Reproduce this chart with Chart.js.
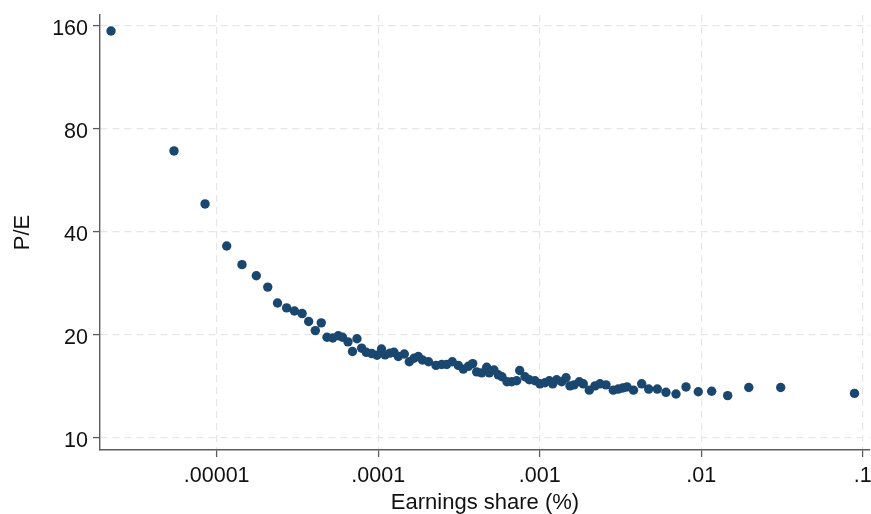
<!DOCTYPE html>
<html>
<head>
<meta charset="utf-8">
<script src="https://cdn.jsdelivr.net/npm/chart.js@4/dist/chart.umd.min.js"></script>
<style>
  html, body { margin: 0; padding: 0; background: #ffffff; }
  #wrap { width: 871px; height: 514px; }
</style>
</head>
<body>
<div id="wrap"><canvas id="c" width="871" height="514"></canvas></div>
<script>
// Earnings share (%) — x values
const earningsShare = [
  2.216e-6, 5.44e-6, 8.47e-6, 1.153e-5, 1.434e-5, 1.759e-5, 2.07e-5, 2.38e-5, 2.71e-5, 3.03e-5,
  3.38e-5, 3.71e-5, 4.08e-5, 4.44e-5, 4.82e-5, 5.23e-5, 5.66e-5, 6.01e-5, 6.50e-5, 6.93e-5,
  7.39e-5, 7.90e-5, 8.44e-5, 9.12e-5, 9.83e-5, 1.048e-4, 1.102e-4, 1.183e-4, 1.252e-4, 1.332e-4,
  1.451e-4, 1.558e-4, 1.666e-4, 1.771e-4, 1.881e-4, 2.049e-4, 2.280e-4, 2.474e-4, 2.656e-4, 2.876e-4,
  3.133e-4, 3.365e-4, 3.614e-4, 3.847e-4, 4.073e-4, 4.375e-4, 4.697e-4, 4.874e-4, 5.212e-4, 5.541e-4,
  5.841e-4, 6.272e-4, 6.708e-4, 7.204e-4, 7.519e-4, 8.110e-4, 8.622e-4, 9.352e-4, 1.004e-3, 1.079e-3,
  1.147e-3, 1.204e-3, 1.274e-3, 1.368e-3, 1.455e-3, 1.540e-3, 1.631e-3, 1.759e-3, 1.862e-3, 2.028e-3,
  2.200e-3, 2.363e-3, 2.574e-3, 2.856e-3, 3.066e-3, 3.265e-3, 3.472e-3, 3.809e-3, 4.281e-3, 4.731e-3,
  5.349e-3, 6.053e-3, 6.982e-3, 8.053e-3, 9.594e-3, 1.161e-2, 1.459e-2, 1.971e-2, 3.107e-2, 8.897e-2
];
// P/E — y values
const peRatio = [
  154.6, 69.0, 48.3, 36.4, 32.1, 29.8, 27.6, 24.8, 24.0, 23.5,
  23.1, 21.9, 20.6, 21.7, 19.7, 19.6, 19.9, 19.7, 19.1, 17.9,
  19.5, 18.3, 17.8, 17.65, 17.45, 18.2, 17.5, 17.7, 17.8, 17.3,
  17.6, 16.7, 17.1, 17.3, 16.9, 16.7, 16.3, 16.4, 16.4, 16.7,
  16.3, 15.9, 16.2, 16.5, 15.6, 15.5, 16.1, 15.5, 15.8, 15.3,
  15.1, 14.6, 14.6, 14.7, 15.75, 15.1, 14.8, 14.7, 14.4, 14.5,
  14.7, 14.4, 14.8, 14.6, 15.0, 14.2, 14.3, 14.6, 14.4, 13.8,
  14.2, 14.4, 14.3, 13.8, 13.9, 14.0, 14.1, 13.8, 14.4, 13.9,
  13.9, 13.6, 13.45, 14.1, 13.65, 13.7, 13.3, 14.05, 14.05, 13.5
];

const xTicks = [0.00001, 0.0001, 0.001, 0.01, 0.1];
const xTickLabels = ['.00001', '.0001', '.001', '.01', '.1'];
const yTicks = [10, 20, 40, 80, 160];
const yTickLabels = ['10', '20', '40', '80', '160'];

const points = earningsShare.map((x, i) => ({ x: x, y: peRatio[i] }));

const FONT = "'Liberation Sans', Arial, Helvetica, sans-serif";
const axisColor = '#5c5c5c';
const gridColor = '#e6e6e6';
const noPad = () => ({ left: 0, top: 0, right: 0, bottom: 0 });

new Chart(document.getElementById('c'), {
  type: 'scatter',
  data: {
    datasets: [{
      data: points,
      backgroundColor: '#1a476f',
      borderWidth: 0,
      pointRadius: 4.7,
      pointHoverRadius: 4.7,
      clip: false
    }]
  },
  options: {
    responsive: false,
    animation: false,
    events: [],
    layout: { autoPadding: false, padding: { top: 15, right: 1, left: 0, bottom: 0 } },
    plugins: { legend: { display: false }, tooltip: { enabled: false } },
    scales: {
      x: {
        type: 'logarithmic',
        min: 1.894e-6,
        max: 0.111,
        afterBuildTicks: (s) => { s.ticks = xTicks.map(v => ({ value: v })); },
        afterFit: (s) => {
          s.height = 64; s.paddingLeft = 0; s.paddingRight = 0;
          s.paddingTop = 0; s.paddingBottom = 0; s.getPadding = noPad;
        },
        ticks: {
          autoSkip: false, maxRotation: 0, minRotation: 0, padding: 6,
          color: '#111', font: { family: FONT, size: 21.5 },
          callback: (v, i) => xTickLabels[i]
        },
        grid: {
          color: gridColor, lineWidth: 1.2, tickLength: 7,
          tickColor: axisColor, tickWidth: 1.3, tickBorderDash: []
        },
        border: { display: true, color: axisColor, width: 1.4, dash: [7, 5] },
        title: {
          display: true, text: 'Earnings share (%)', color: '#111',
          font: { family: FONT, size: 22, lineHeight: 1 }, padding: { top: 0, bottom: 0 }
        }
      },
      y: {
        type: 'logarithmic',
        min: 9.225,
        max: 172.2,
        afterBuildTicks: (s) => { s.ticks = yTicks.map(v => ({ value: v })); },
        afterFit: (s) => {
          s.width = 100; s.paddingTop = 0; s.paddingBottom = 0;
          s.paddingLeft = 0; s.paddingRight = 0; s.getPadding = noPad;
        },
        ticks: {
          autoSkip: false, padding: 5, labelOffset: 3,
          color: '#111', font: { family: FONT, size: 21.5 },
          callback: (v, i) => yTickLabels[i]
        },
        grid: {
          color: gridColor, lineWidth: 1.2, tickLength: 7,
          tickColor: axisColor, tickWidth: 1.3, tickBorderDash: []
        },
        border: { display: true, color: axisColor, width: 1.4, dash: [7, 5] },
        title: {
          display: true, text: 'P/E', color: '#111',
          font: { family: FONT, size: 22, lineHeight: 1 }, padding: { top: 11.5, bottom: 0 }
        }
      }
    }
  }
});
</script>
</body>
</html>
